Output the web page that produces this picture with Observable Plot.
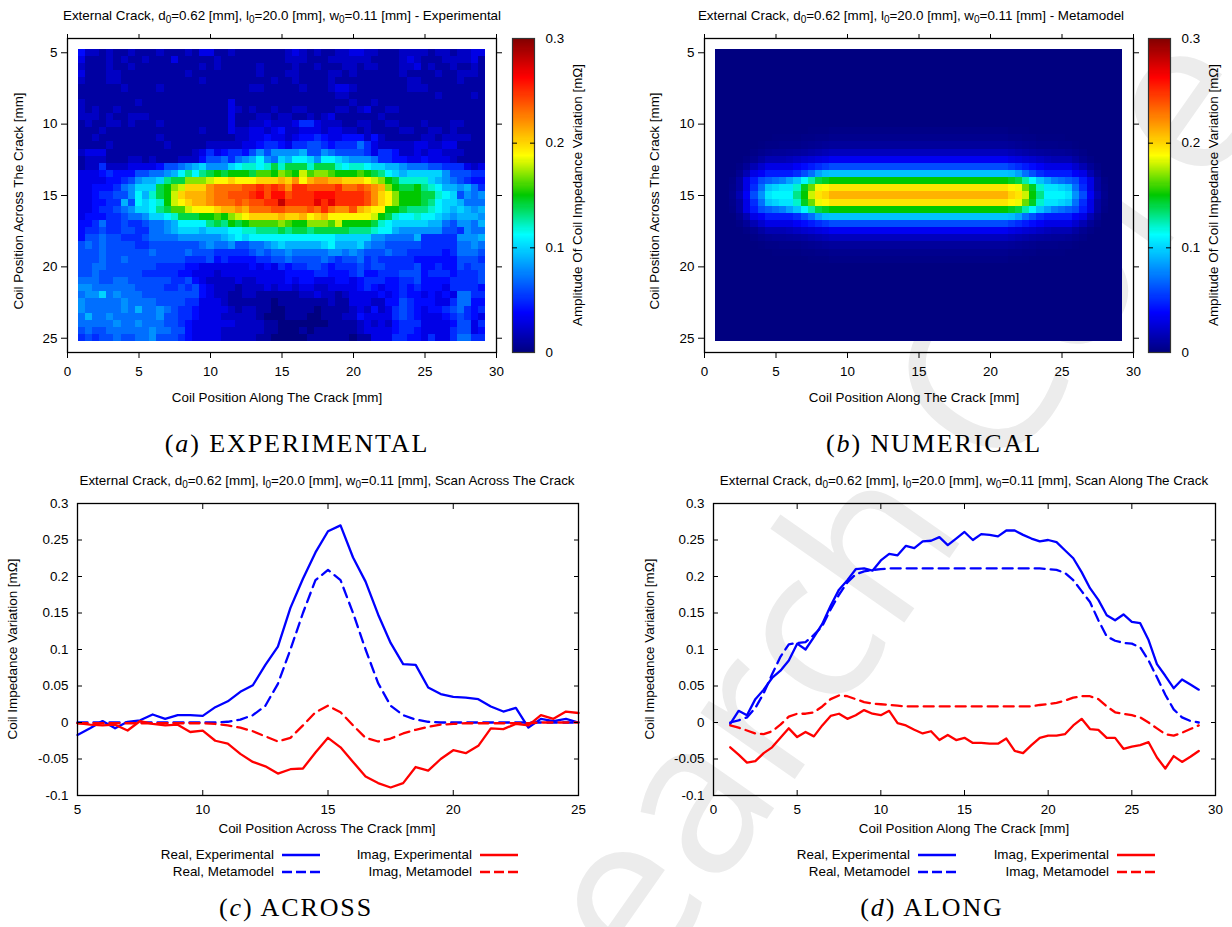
<!DOCTYPE html>
<html><head><meta charset="utf-8">
<script src="https://cdn.jsdelivr.net/npm/d3@7"></script>
<script src="https://cdn.jsdelivr.net/npm/@observablehq/plot@0.6"></script>
<style>
html,body{margin:0;padding:0;background:#fff;}
#page{position:relative;width:1232px;height:927px;overflow:hidden;font-family:"Liberation Sans",sans-serif;font-size:13.4px;color:#000;}
#page>*{position:absolute;}
#page svg{background:transparent!important;overflow:visible;}
.t{white-space:nowrap;line-height:1;}
.t sub{font-size:10px;vertical-align:-3px;line-height:0;}
.cap{font-family:"Liberation Serif",serif;font-size:26px;letter-spacing:1.9px;white-space:nowrap;line-height:1;}
.wm{font-family:"Open Sans",sans-serif;font-size:215px;color:#ececec;white-space:nowrap;line-height:1;transform-origin:0 100%;transform:rotate(-55deg);}
</style></head><body><div id="page"></div>
<script>
const heatX=[1,1.5,2,2.5,3,3.5,4,4.5,5,5.5,6,6.5,7,7.5,8,8.5,9,9.5,10,10.5,11,11.5,12,12.5,13,13.5,14,14.5,15,15.5,16,16.5,17,17.5,18,18.5,19,19.5,20,20.5,21,21.5,22,22.5,23,23.5,24,24.5,25,25.5,26,26.5,27,27.5,28,28.5,29];
const heatY=[5,5.5,6,6.5,7,7.5,8,8.5,9,9.5,10,10.5,11,11.5,12,12.5,13,13.5,14,14.5,15,15.5,16,16.5,17,17.5,18,18.5,19,19.5,20,20.5,21,21.5,22,22.5,23,23.5,24,24.5,25];
// Experimental amplitude, read in units of 0.01 mOhm, one row per heatY
const experimentalRows=[
[4,2,2,1,2,1,1,2,1,1, 1,2,1,1,1,2,1,3,3,1, 1,2,1,1,1,1,1,1,1,2, 3,2,1,2,1,1,2,2,3,3, 2,2,1,1,1,2,2,2,2,1, 2,2,1,2,2,3,3],
[3,1,1,1,2,1,2,1,1,2, 1,1,1,3,1,1,1,1,1,2, 1,1,1,1,1,1,1,1,1,2, 2,2,1,1,1,2,2,2,2,2, 2,1,1,1,1,2,3,2,1,1, 1,2,2,2,2,3,1],
[2,1,1,1,2,1,1,2,1,1, 1,1,1,1,1,1,1,2,1,2, 1,1,1,1,1,2,1,1,1,1, 2,1,1,2,1,1,1,2,2,1, 2,2,1,1,1,2,2,3,1,2, 1,1,2,1,1,2,1],
[3,1,1,1,2,2,1,1,1,1, 1,1,1,1,1,2,1,1,1,1, 1,1,1,1,1,2,1,1,1,2, 2,1,1,1,1,2,2,1,2,1, 1,1,1,1,1,2,1,1,1,1, 2,1,1,2,2,2,1],
[2,1,1,1,2,2,1,1,1,1, 1,1,1,1,1,1,1,2,1,1, 1,1,1,1,1,1,1,2,1,1, 2,1,1,1,1,2,1,1,1,1, 1,1,1,1,1,1,2,2,1,1, 1,1,1,2,1,1,1],
[1,1,1,1,1,1,2,1,1,1, 1,2,1,1,1,1,1,1,1,1, 1,1,1,1,2,2,1,1,1,1, 1,2,1,1,1,2,3,3,2,1, 1,1,1,1,1,1,2,2,2,1, 1,1,1,1,1,1,1],
[1,1,1,1,1,1,1,1,1,1, 1,1,1,1,1,1,1,1,1,1, 1,1,1,1,1,1,1,1,1,1, 1,1,1,1,1,1,2,2,1,1, 1,1,1,1,1,1,1,1,1,1, 2,1,1,1,1,2,1],
[2,1,1,1,1,1,1,1,2,1, 1,1,1,1,1,1,1,1,1,1, 1,3,1,1,1,1,1,1,1,1, 1,1,1,1,1,1,1,1,2,1, 1,2,1,1,1,1,1,1,1,1, 1,1,1,1,1,1,1],
[2,1,2,1,1,2,1,1,1,1, 1,1,1,1,1,1,1,1,1,1, 1,3,2,1,2,1,1,2,1,1, 2,2,1,1,1,1,2,2,1,2, 3,1,1,2,2,1,1,1,1,1, 1,1,1,1,1,1,1],
[2,2,2,1,2,1,1,2,2,2, 1,1,1,1,1,1,1,1,1,1, 1,3,1,1,1,2,2,1,2,2, 1,1,2,1,2,3,1,1,1,1, 1,1,2,1,1,1,1,1,1,1, 1,1,1,1,1,1,1],
[1,2,1,1,2,2,1,2,1,1, 1,2,1,1,1,1,1,1,1,1, 1,3,1,1,2,2,3,2,2,2, 3,5,5,3,2,2,2,1,1,2, 2,1,1,2,2,1,1,1,2,1, 1,1,2,2,1,1,1],
[1,1,1,2,1,1,1,1,1,1, 1,1,1,1,1,1,1,2,1,1, 1,3,2,2,3,3,2,3,4,2, 2,3,3,3,2,3,3,2,2,1, 2,1,1,1,1,2,2,1,1,2, 2,1,2,1,1,1,1],
[1,1,2,1,1,1,1,1,1,1, 1,2,1,1,1,1,1,1,1,1, 1,1,2,2,3,3,4,3,3,2, 3,4,4,5,4,3,3,4,4,4, 2,4,2,1,1,1,1,1,2,2, 1,2,2,2,2,1,1],
[1,1,1,1,2,1,1,1,1,1, 1,1,2,1,1,1,1,1,2,2, 2,2,2,3,3,4,5,5,4,3, 5,5,6,6,5,4,5,5,5,7, 5,3,2,2,2,2,2,3,3,2, 2,3,3,1,1,1,1],
[2,3,3,3,1,1,1,1,1,1, 1,1,1,1,1,1,2,3,5,3, 4,5,5,4,6,8,6,8,8,8, 8,9,6,6,8,7,6,6,6,6, 5,3,5,5,4,2,2,3,2,3, 3,2,2,2,1,1,1],
[1,2,2,2,1,1,1,2,2,1, 2,1,1,1,2,2,2,4,6,6, 7,5,7,8,9,11,8,7,10,9, 11,11,10,8,11,11,10,9,8,8, 8,7,5,5,4,4,3,3,4,3, 3,3,2,1,1,1,1],
[1,2,2,5,2,2,2,3,3,3, 3,4,6,6,7,8,9,10,8,8, 8,10,11,12,12,11,12,14,12,14, 14,14,12,14,14,14,12,11,12,12, 11,10,10,9,9,8,7,7,7,6, 6,5,5,5,3,2,3],
[3,3,3,4,5,4,4,4,6,6, 7,7,8,9,11,13,11,13,14,15, 14,15,15,15,14,16,16,15,17,16, 15,18,16,17,17,16,15,15,15,16, 15,14,13,11,10,9,10,10,10,10, 10,8,6,6,6,5,5],
[3,3,3,3,4,4,5,6,8,9, 9,10,13,14,14,17,17,17,18,19, 19,20,19,19,19,20,20,20,21,20, 22,19,21,22,22,21,21,20,20,20, 19,18,17,15,14,12,12,12,12,10, 9,8,7,6,5,4,4],
[3,3,4,4,4,5,7,8,10,10, 10,14,15,17,18,20,20,20,22,23, 23,23,23,24,24,25,24,25,24,22, 25,25,24,24,24,24,25,23,23,24, 23,22,21,17,15,14,14,15,13,12, 11,9,9,8,9,7,5],
[3,3,4,5,5,6,6,8,11,9, 12,14,15,18,20,21,21,21,22,23, 23,24,24,24,25,26,24,26,26,24, 25,25,25,26,26,26,25,25,25,25, 24,22,20,19,17,15,15,15,14,14, 12,11,10,6,8,7,8],
[3,3,4,4,5,5,9,6,11,10, 11,12,15,18,19,20,21,21,22,23, 23,23,24,23,24,24,25,25,28,25, 25,25,25,27,25,27,25,25,25,25, 24,22,20,19,17,15,15,15,14,13, 11,10,10,9,7,7,7],
[3,3,4,5,5,6,7,8,10,10, 11,13,14,16,16,18,19,19,19,20, 21,21,22,21,23,23,23,24,24,23, 23,23,24,23,25,23,22,22,24,21, 20,19,19,15,15,14,13,13,13,12, 11,10,9,10,9,8,9],
[3,4,4,4,5,5,6,7,7,8, 10,10,11,12,14,14,14,15,15,16, 15,17,18,19,20,20,20,20,21,20, 20,21,19,20,21,19,19,19,19,19, 19,18,15,14,12,11,11,12,11,11, 10,9,8,9,9,9,8],
[4,4,5,7,5,5,6,5,5,6, 7,7,8,9,11,11,11,11,13,14, 13,15,14,15,16,16,16,16,17,16, 15,15,17,17,17,16,18,15,15,15, 15,14,12,11,10,10,10,10,10,9, 9,7,6,8,8,7,9],
[4,5,5,6,5,5,6,6,5,5, 7,7,8,9,10,10,10,9,10,10, 10,11,11,12,12,13,13,13,14,13, 14,14,13,14,14,14,14,14,13,13, 13,12,11,11,9,8,8,8,8,8, 8,6,6,5,8,7,7],
[4,6,6,7,6,6,5,5,5,6, 7,7,7,7,8,8,8,8,8,8, 9,10,11,10,11,11,11,11,11,11, 11,11,11,11,11,11,10,10,10,10, 10,8,8,7,7,7,7,9,5,5, 5,5,5,8,8,8,9],
[6,7,6,7,6,6,6,6,5,5, 6,6,6,6,6,6,6,7,8,7, 7,8,6,6,7,7,8,9,10,9, 9,9,9,9,10,11,9,9,9,10, 8,7,7,6,6,6,6,6,5,5, 5,5,5,7,7,8,7],
[6,6,6,7,6,6,6,6,6,6, 7,6,6,6,6,7,6,6,6,5, 5,5,5,5,6,7,6,7,7,8, 7,7,7,7,7,8,8,7,8,7, 6,6,6,7,6,6,5,5,5,5, 5,4,5,7,7,7,6],
[6,6,6,7,6,6,7,6,6,6, 6,6,6,6,6,5,5,5,6,4, 5,4,4,4,4,5,5,6,6,7, 6,6,6,6,7,6,5,6,6,7, 5,6,5,5,5,5,5,4,4,4, 4,4,4,6,6,6,5],
[6,6,7,7,6,6,6,6,6,6, 6,5,5,5,5,4,4,3,3,3, 3,3,3,3,4,3,4,3,5,4, 5,5,6,6,5,4,5,5,5,6, 5,6,6,5,5,5,5,6,4,4, 5,4,4,6,5,6,6],
[6,6,7,6,6,6,6,6,6,5, 5,5,5,5,4,4,3,3,3,2, 3,3,3,3,3,3,3,3,3,4, 4,4,4,5,5,4,4,4,5,6, 4,4,5,5,5,6,6,6,4,5, 5,5,4,5,5,5,6],
[7,7,7,6,6,7,7,6,6,6, 6,6,6,5,5,6,4,3,2,2, 2,2,3,2,2,3,3,3,3,4, 3,4,4,3,3,3,4,4,3,4, 5,5,5,4,4,5,5,6,4,4, 4,4,5,5,5,5,6],
[8,8,7,7,7,7,7,7,6,6, 6,6,5,5,6,5,6,4,3,2, 2,2,1,2,2,2,3,2,3,3, 2,3,3,2,2,3,3,3,3,4, 5,4,3,4,4,5,4,5,4,4, 4,3,5,5,5,5,4],
[7,8,8,10,7,8,7,7,7,6, 6,6,6,6,6,6,6,4,3,2, 2,1,1,2,2,1,1,1,1,1, 1,2,2,3,2,2,1,2,3,3, 3,3,4,3,4,5,4,4,3,4, 3,4,3,7,7,5,5],
[8,7,7,7,7,7,8,7,7,7, 7,6,6,6,6,5,5,3,3,3, 2,1,1,1,1,1,1,0,1,1, 1,1,1,1,1,2,1,1,3,3, 3,2,2,4,4,6,5,4,4,4, 3,3,5,7,7,4,4],
[8,7,7,7,7,7,8,7,9,7, 7,8,7,6,5,5,4,3,3,3, 3,2,1,2,2,1,1,0,0,1, 1,1,1,0,1,1,1,1,2,3, 2,4,2,3,5,6,5,4,3,4, 4,5,6,7,5,4,5],
[7,9,7,7,8,7,7,7,7,7, 7,8,6,6,5,5,4,3,3,3, 2,2,2,2,2,1,0,0,0,1, 1,1,0,0,1,1,1,2,2,4, 3,3,3,3,5,6,5,4,3,3, 3,4,5,6,5,4,3],
[7,7,7,7,7,8,7,7,8,7, 7,7,6,6,5,4,3,3,3,3, 3,3,2,2,2,2,1,1,0,0, 0,0,0,0,0,1,1,1,1,2, 3,2,3,2,4,5,5,5,3,3, 3,3,4,6,6,3,5],
[6,7,6,6,7,7,7,7,7,7, 8,7,7,6,6,4,3,3,3,3, 2,2,2,2,2,2,1,1,0,0, 0,1,0,1,1,1,1,1,1,2, 3,3,3,3,4,5,5,4,3,3, 3,3,5,6,6,3,4],
[5,6,5,6,6,7,6,6,7,7, 8,6,6,6,5,4,3,3,3,3, 2,2,2,2,2,1,1,0,0,0, 0,0,1,1,1,1,1,1,0,1, 1,3,3,3,5,5,4,4,3,5, 3,3,5,7,7,5,5]
];
// Metamodel amplitude: the picture is symmetric, so each row is read as its left end (1 to 8.5 mm) and its flat middle value
const metaLeft=[
[0,0,0,0,0,0,0,0,0,0,0,0,0,.1,.1,.1],
[0,0,0,0,0,0,0,0,.1,.1,.1,.1,.2,.2,.3,.3],
[0,0,0,0,0,0,.1,.2,.2,.3,.3,.3,.4,.5,.6,.7],
[0,0,0,0,0,.2,.4,.6,.7,.7,.8,.9,1,1.2,1.4,1.6],
[0,0,0,0,.2,.5,1,1.5,1.5,1.5,1.7,2,2.3,2.5,2.8,3],
[0,0,0,.2,.7,1.5,2.3,3,3,3,3,3.5,4,4.5,5,5.5],
[0,0,0,.5,1.5,3,3.5,4.5,4.5,4.5,4.5,5,6,7,8.5,9.3],
[0,0,.2,1,3,4.5,6,6.5,7,7.5,8.5,9.5,11,12.5,14,14.5],
[0,0,.3,1,3,5,7,9.5,10,10.5,10.5,12,14.5,16.5,18.5,19],
[0,0,.4,1.5,3.5,6,8,10.5,11,11,11,13,15,18,19.5,20]
];
const metaMiddle=[.2,.4,.8,1.8,3.4,6,9.5,15,19.5,21];

const acrossX=[5,5.5,6,6.5,7,7.5,8,8.5,9,9.5,10,10.5,11,11.5,12,12.5,13,13.5,14,14.5,15,15.5,16,16.5,17,17.5,18,18.5,19,19.5,20,20.5,21,21.5,22,22.5,23,23.5,24,24.5,25];
const acrossRealExp=[-.017,-.008,.002,-.008,.001,.003,.011,.005,.01,.01,.009,.021,.029,.042,.051,.079,.104,.157,.197,.233,.262,.27,.226,.193,.148,.109,.08,.079,.048,.039,.035,.034,.032,.022,.015,.02,-.007,.005,.002,.005,0];
const acrossRealMeta=[0,0,0,0,0,0,0,0,0,0,0,0,.001,.004,.01,.023,.053,.1,.15,.195,.209,.195,.15,.1,.054,.023,.01,.004,.001,0,0,0,0,0,0,0,0,0,0,0,0];
const acrossImagExp=[-.001,-.003,-.004,-.003,-.011,.002,-.002,-.004,-.003,-.013,-.011,-.025,-.029,-.043,-.054,-.06,-.07,-.064,-.063,-.041,-.021,-.034,-.054,-.074,-.083,-.089,-.083,-.061,-.066,-.05,-.038,-.042,-.032,-.008,-.009,-.002,-.004,.01,.005,.015,.013];
const acrossImagMeta=[-.001,-.001,-.001,-.001,-.001,-.001,-.001,-.001,-.001,-.001,-.001,-.002,-.004,-.007,-.012,-.019,-.026,-.021,-.004,.014,.023,.014,-.004,-.021,-.026,-.022,-.015,-.01,-.006,-.003,-.002,-.001,-.001,-.001,-.001,-.001,-.001,0,0,0,0];

const alongX=heatX;
const alongRealExp=[-.002,.016,.01,.032,.045,.061,.071,.085,.108,.1,.117,.135,.16,.182,.195,.21,.211,.208,.222,.231,.229,.242,.239,.248,.249,.254,.243,.252,.261,.25,.258,.257,.255,.263,.263,.257,.252,.248,.25,.247,.236,.225,.206,.184,.168,.147,.14,.148,.138,.136,.113,.08,.064,.047,.059,.052,.045];
const alongRealMeta=[0,.003,.007,.02,.04,.066,.09,.107,.109,.11,.12,.132,.155,.175,.192,.203,.207,.209,.21,.211,.211,.211,.211,.211,.211,.211,.211,.211,.211,.211,.211,.211,.211,.211,.211,.211,.211,.211,.21,.209,.205,.195,.18,.165,.14,.118,.112,.109,.108,.103,.085,.062,.038,.018,.007,.002,0];
const alongImagExp=[-.034,-.044,-.055,-.053,-.042,-.034,-.021,-.008,-.02,-.013,-.019,-.004,.009,.012,.005,.01,.017,.012,.01,.016,-.001,-.004,-.01,-.015,-.012,-.024,-.017,-.024,-.021,-.028,-.028,-.029,-.029,-.022,-.039,-.042,-.031,-.021,-.018,-.018,-.016,-.004,.005,-.009,-.01,-.021,-.021,-.036,-.033,-.031,-.027,-.048,-.063,-.046,-.054,-.047,-.039];
const alongImagMeta=[-.004,-.007,-.011,-.015,-.016,-.012,-.003,.008,.012,.012,.014,.022,.032,.037,.036,.032,.028,.026,.025,.024,.023,.022,.022,.022,.022,.022,.022,.022,.022,.022,.022,.022,.022,.022,.022,.022,.022,.024,.025,.027,.03,.034,.036,.036,.032,.022,.014,.012,.01,.007,0,-.008,-.016,-.018,-.014,-.009,-.004];

const heatTicksX=[0,5,10,15,20,25,30];
const heatTicksY=[5,10,15,20,25];
const barTicks=[0,.1,.2,.3];
const lineTicksY=[-.1,-.05,0,.05,.1,.15,.2,.25,.3];
const colorDomain=[0,.0375,.1125,.15,.1875,.2625,.3];
const colorRange=["#000080","#0000ff","#00ffff","#00c800","#ffff00","#ff0000","#800000"];
const TITLE_TAIL={a:" - Experimental",b:" - Metamodel",c:", Scan Across The Crack",d:", Scan Along The Crack"};
const TITLE_HEAD='External Crack, d<sub>0</sub>=0.62 [mm], l<sub>0</sub>=20.0 [mm], w<sub>0</sub>=0.11 [mm]';

const page=document.getElementById("page");
const fontStyle={fontFamily:"'Liberation Sans',sans-serif",fontSize:"13.4px",background:"transparent",color:"#000"};
function put(el,l,t){el.style.left=l+"px";el.style.top=t+"px";page.appendChild(el);return el;}
function text(html,x,y,anchor="middle",cls="t"){
  const d=document.createElement("div");d.className=cls;d.innerHTML=html;
  d.style.transform=`translate(${anchor==="middle"?"-50%":anchor==="end"?"-100%":"0"},-50%)`;
  return put(d,x,y);
}
function rotated(html,x,y){
  const d=document.createElement("div");d.className="t";d.innerHTML=html;
  d.style.transform="translate(-50%,-50%) rotate(-90deg)";
  return put(d,x,y);
}
// watermark
const wm=document.createElement("div");wm.className="wm";wm.textContent="Research Core";
put(wm,462,1081);

function cellsFromExperimental(){
  return experimentalRows.flatMap((row,j)=>row.map((v,i)=>({x:heatX[i],y:heatY[j],v:v*.01})));
}
function cellsFromMeta(){
  const out=[];
  heatY.forEach(y=>{
    const dist=Math.abs(y-15);
    const r=metaLeft.length-1-Math.round(dist*2);
    heatX.forEach((x,i)=>{
      let v=0;
      if(r>=0){
        const k=Math.min(i,56-i);
        v=k<16?metaLeft[r][k]:metaMiddle[r];
      }
      out.push({x,y,v:v*.01});
    });
  });
  return out;
}
function heat(cells,left){
  const p=Plot.plot({
    width:510,height:410,marginLeft:67,marginRight:14,marginTop:38,marginBottom:58,style:fontStyle,
    x:{domain:[0,30],axis:null},y:{domain:[26,4],axis:null},
    color:{type:"linear",domain:colorDomain,range:colorRange},
    marks:[
      Plot.rect(cells,{x1:d=>d.x-.25,x2:d=>d.x+.25,y1:d=>d.y-.25,y2:d=>d.y+.25,fill:"v",shapeRendering:"crispEdges"}),
      Plot.frame({stroke:"#000",strokeWidth:1.3}),
      Plot.axisX({anchor:"bottom",ticks:heatTicksX,tickSize:6,tickPadding:8,label:null,tickFormat:d=>String(d)}),
      Plot.axisX({anchor:"top",ticks:heatTicksX,tickSize:5,text:null,label:null,tickFormat:null}),
      Plot.axisY({anchor:"left",ticks:heatTicksY,tickSize:6,tickPadding:4,label:null,tickFormat:d=>String(d)}),
      Plot.axisY({anchor:"right",ticks:heatTicksY,tickSize:5,text:null,label:null,tickFormat:null})
    ]});
  put(p,left,0);
}
function colorbar(left){
  const steps=d3.range(0,300).map(i=>i*.001);
  const p=Plot.plot({
    width:70,height:410,marginLeft:7,marginRight:41,marginTop:38,marginBottom:58,style:fontStyle,
    x:{domain:[0,1],axis:null},y:{domain:[0,.3],axis:null},
    color:{type:"linear",domain:colorDomain,range:colorRange},
    marks:[
      Plot.rect(steps,{x1:0,x2:1,y1:d=>d,y2:d=>d+.001,fill:d=>d+.0005,shapeRendering:"crispEdges"}),
      Plot.frame({stroke:"#333",strokeWidth:1.2}),
      Plot.axisY({anchor:"left",ticks:[.1,.2],tickSize:-5,text:null,label:null,tickFormat:null}),
      Plot.axisY({anchor:"right",ticks:[.1,.2],tickSize:-5,tickPadding:16,label:null,text:null,tickFormat:null}),
      Plot.axisY({anchor:"right",ticks:barTicks,tickSize:0,tickPadding:11,label:null,tickFormat:d=>String(d)})
    ]});
  put(p,left,0);
}
function lines(x,re,rm,ie,im,domain,ticks,left,width,ml,mr){
  const series=(vals)=>vals.map((v,i)=>({x:x[i],v}));
  const p=Plot.plot({
    width,height:360,marginLeft:ml,marginRight:mr,marginTop:38,marginBottom:30,style:fontStyle,
    x:{domain,axis:null},y:{domain:[-.1,.3],axis:null},
    marks:[
      Plot.line(series(re),{x:"x",y:"v",stroke:"#0000ff",strokeWidth:2.3,strokeLinejoin:"round"}),
      Plot.line(series(rm),{x:"x",y:"v",stroke:"#0000ff",strokeWidth:2.3,strokeDasharray:"10,6"}),
      Plot.line(series(ie),{x:"x",y:"v",stroke:"#ff0000",strokeWidth:2.3,strokeLinejoin:"round"}),
      Plot.line(series(im),{x:"x",y:"v",stroke:"#ff0000",strokeWidth:2.3,strokeDasharray:"10,6"}),
      Plot.frame({stroke:"#000",strokeWidth:1.3}),
      Plot.axisX({anchor:"bottom",ticks,tickSize:-5,text:null,label:null,tickFormat:null}),
      Plot.axisX({anchor:"top",ticks,tickSize:-5,text:null,label:null,tickFormat:null}),
      Plot.axisX({anchor:"bottom",ticks,tickSize:0,tickPadding:9,label:null,tickFormat:d=>String(d)}),
      Plot.axisY({anchor:"left",ticks:lineTicksY,tickSize:-5,text:null,label:null,tickFormat:null}),
      Plot.axisY({anchor:"right",ticks:lineTicksY,tickSize:-5,text:null,label:null,tickFormat:null}),
      Plot.axisY({anchor:"left",ticks:lineTicksY,tickSize:0,tickPadding:9,label:null,tickFormat:d=>String(d)})
    ]});
  put(p,left,465);
}
function legend(label,x,y,color,dash){
  text(label,x,y,"end");
  const ns="http://www.w3.org/2000/svg";
  const s=document.createElementNS(ns,"svg");s.setAttribute("width",38);s.setAttribute("height",6);
  const l=document.createElementNS(ns,"line");
  l.setAttribute("x1",0);l.setAttribute("x2",38);l.setAttribute("y1",3);l.setAttribute("y2",3);
  l.setAttribute("stroke",color);l.setAttribute("stroke-width",2.3);
  if(dash)l.setAttribute("stroke-dasharray","10,4");
  s.appendChild(l);put(s,x+8,y-3);
}

heat(cellsFromExperimental(),0);colorbar(505);
heat(cellsFromMeta(),637);colorbar(1141);
lines(acrossX,acrossRealExp,acrossRealMeta,acrossImagExp,acrossImagMeta,[5,25],[5,10,15,20,25],0,600,77,22);
lines(alongX,alongRealExp,alongRealMeta,alongImagExp,alongImagMeta,[0,30],[0,5,10,15,20,25,30],636,596,77,17);

text(TITLE_HEAD+TITLE_TAIL.a,282,16);
text(TITLE_HEAD+TITLE_TAIL.b,911,16);
text(TITLE_HEAD+TITLE_TAIL.c,327,481);
text(TITLE_HEAD+TITLE_TAIL.d,964,481);
text("Coil Position Along The Crack [mm]",277,398);
text("Coil Position Along The Crack [mm]",914,398);
text("Coil Position Across The Crack [mm]",327,829);
text("Coil Position Along The Crack [mm]",964,829);
rotated("Coil Position Across The Crack [mm]",19,201);
rotated("Coil Position Across The Crack [mm]",655,201);
rotated("Amplitude Of Coil Impedance Variation [mΩ]",578,195);
rotated("Amplitude Of Coil Impedance Variation [mΩ]",1214,195);
rotated("Coil Impedance Variation [mΩ]",13,649);
rotated("Coil Impedance Variation [mΩ]",650,649);
text("(<i>a</i>) EXPERIMENTAL",297,444,"middle","cap");
text("(<i>b</i>) NUMERICAL",934,444,"middle","cap");
text("(<i>c</i>) ACROSS",296,908,"middle","cap");
text("(<i>d</i>) ALONG",932,908,"middle","cap");
[[274,472],[910,1109]].forEach(([a,b])=>{
  legend("Real, Experimental",a,855,"#0000ff",false);
  legend("Real, Metamodel",a,872,"#0000ff",true);
  legend("Imag, Experimental",b,855,"#ff0000",false);
  legend("Imag, Metamodel",b,872,"#ff0000",true);
});
</script></body></html>
